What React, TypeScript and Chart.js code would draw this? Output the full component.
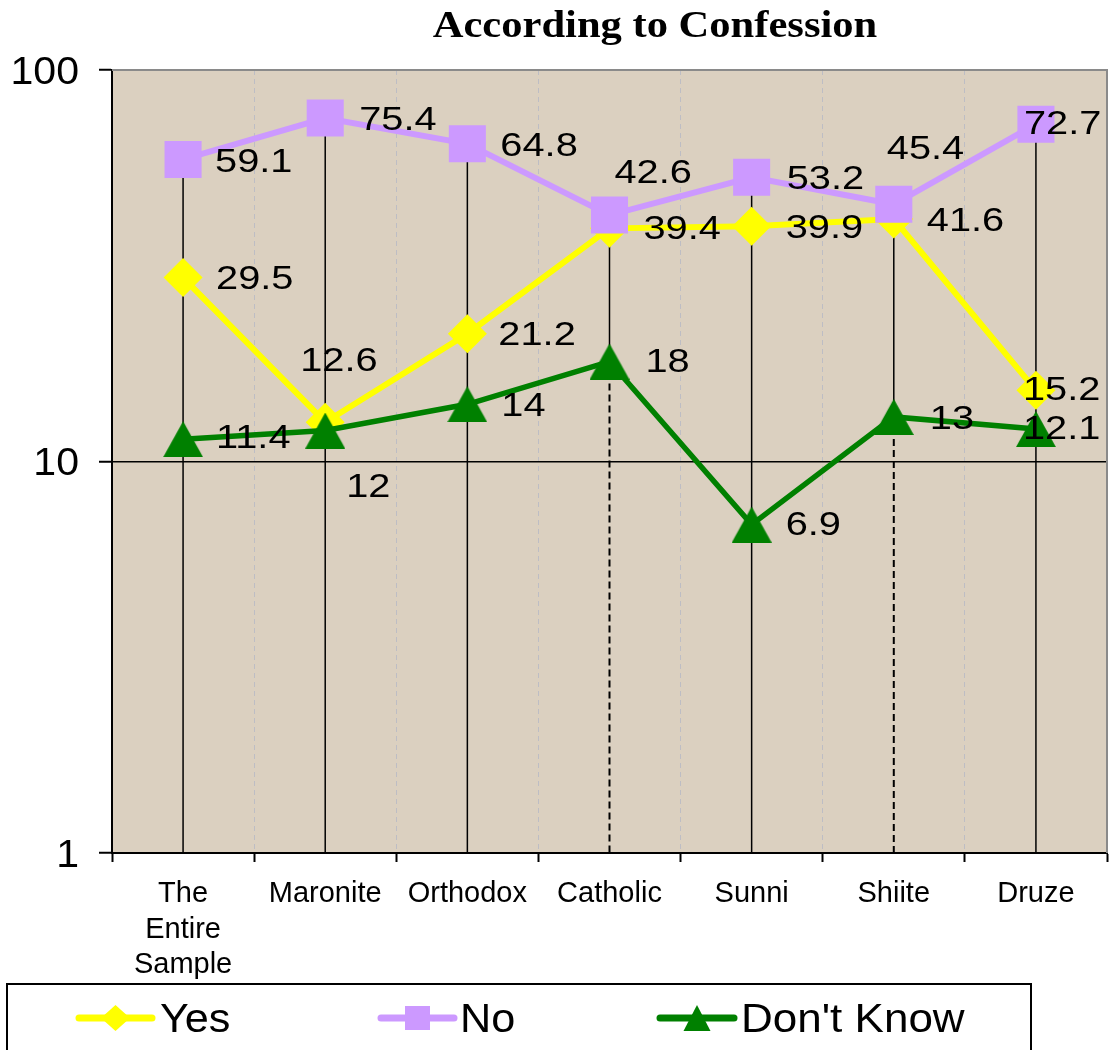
import React, { useEffect, useRef } from "react";
import { Chart, registerables } from "chart.js";

Chart.register(...registerables);

const chartTitle = "According to Confession";
const categories: string[][] = [
  ["The", "Entire", "Sample"],
  ["Maronite"],
  ["Orthodox"],
  ["Catholic"],
  ["Sunni"],
  ["Shiite"],
  ["Druze"],
];
const seriesNames = ["Yes", "No", "Don't Know"];
const yesValues = [29.5, 12.6, 21.2, 39.4, 39.9, 41.6, 15.2];
const noValues = [59.1, 75.4, 64.8, 42.6, 53.2, 45.4, 72.7];
const dontKnowValues = [11.4, 12, 14, 18, 6.9, 13, 12.1];
const yTickValues = [1, 10, 100];

// data label placement (dx to text start, dy of text centre) relative to the point
const yesLabelOffsets = [[33, -1], [-25, -63], [31, -1], [34, -2], [34, 0], [33, 0], [-13, -2]];
const noLabelOffsets = [[32, 0], [34, 0], [33, 0], [5, -44], [35, 0], [-7, -57], [-12, -2]];
const dkLabelOffsets = [[33, -3], [21, 54], [34, 0], [36, -2], [34, -2], [36, 0], [-13, -2]];

const SANS = '"Liberation Sans", Arial, Helvetica, sans-serif';
const SERIF = '"Liberation Serif", "Times New Roman", serif';
const YELLOW = "#FFFF00";
const PURPLE = "#CC99FF";
const GREEN = "#008000";
const PLOT_BG = "#DBD0C0";
const CANVAS_W = 1134;
const CANVAS_H = 1050;

function drawText(
  ctx: CanvasRenderingContext2D,
  text: string,
  x: number,
  baseline: number,
  font: string,
  sx: number,
  align: CanvasTextAlign
) {
  ctx.save();
  ctx.font = font;
  ctx.textAlign = align;
  ctx.textBaseline = "alphabetic";
  ctx.fillStyle = "#000";
  ctx.translate(x, baseline);
  ctx.scale(sx, 1);
  ctx.fillText(text, 0, 0);
  ctx.restore();
}

function makeTriangle(w: number, h: number, color: string) {
  const c = document.createElement("canvas");
  c.width = w;
  c.height = h;
  const g = c.getContext("2d")!;
  g.fillStyle = color;
  g.beginPath();
  g.moveTo(w / 2, 0);
  g.lineTo(w, h);
  g.lineTo(0, h);
  g.closePath();
  g.fill();
  return c;
}

const customPlugin = {
  id: "customDecor",
  beforeDraw(chart: any) {
    const { ctx, chartArea: a, width, height } = chart;
    ctx.save();
    ctx.fillStyle = "#FFFFFF";
    ctx.fillRect(0, 0, width, height);
    ctx.fillStyle = PLOT_BG;
    ctx.fillRect(a.left, a.top, a.right - a.left, a.bottom - a.top);
    ctx.restore();
  },
  beforeDatasetsDraw(chart: any) {
    const { ctx, chartArea: a } = chart;
    const metas = [0, 1, 2].map((i) => chart.getDatasetMeta(i));
    ctx.save();
    // plot frame (top and right)
    ctx.strokeStyle = "#8A8A8A";
    ctx.lineWidth = 2;
    ctx.beginPath();
    ctx.moveTo(a.left, a.top);
    ctx.lineTo(a.right, a.top);
    ctx.lineTo(a.right, a.bottom);
    ctx.stroke();
    // drop lines
    const dashedBelowLowest = [3, 5];
    for (let j = 0; j < categories.length; j++) {
      const ys = metas.map((m: any) => m.data[j].y);
      const x = metas[0].data[j].x;
      const top = Math.min(...ys);
      const low = Math.max(...ys);
      ctx.strokeStyle = "#000";
      ctx.lineWidth = 1.5;
      ctx.setLineDash([]);
      ctx.beginPath();
      if (dashedBelowLowest.includes(j)) {
        ctx.moveTo(x, top);
        ctx.lineTo(x, low);
        ctx.stroke();
        ctx.lineWidth = 2;
        ctx.setLineDash([7, 4]);
        ctx.beginPath();
        ctx.moveTo(x, low);
        ctx.lineTo(x, a.bottom);
        ctx.stroke();
      } else {
        ctx.moveTo(x, top);
        ctx.lineTo(x, a.bottom);
        ctx.stroke();
      }
    }
    ctx.restore();
  },
  afterDatasetsDraw(chart: any) {
    const { ctx } = chart;
    const sets = [yesValues, noValues, dontKnowValues];
    const offs = [yesLabelOffsets, noLabelOffsets, dkLabelOffsets];
    const size = 34;
    sets.forEach((vals, i) => {
      const meta = chart.getDatasetMeta(i);
      vals.forEach((v, j) => {
        const p = meta.data[j];
        const [dx, dy] = offs[i][j];
        drawText(ctx, String(v), p.x + dx, p.y + dy + size * 0.358, `${size}px ${SANS}`, 1.17, "left");
      });
    });
  },
  afterDraw(chart: any) {
    const { ctx, scales } = chart;
    const xs = scales.x;
    const ys = scales.y;
    // y tick labels
    const ySize = 38;
    yTickValues.forEach((v) => {
      const y = ys.getPixelForValue(v);
      drawText(ctx, String(v), 79, y + ySize * 0.358, `${ySize}px ${SANS}`, 1.08, "right");
    });
    // x labels
    const xSize = 29;
    categories.forEach((lines, j) => {
      const x = xs.getPixelForValue(j);
      lines.forEach((ln, k) => {
        drawText(ctx, ln, x, 892 + k * 35.5 + xSize * 0.358, `${xSize}px ${SANS}`, 1.0, "center");
      });
    });
    // title
    drawText(ctx, chartTitle, 655, 37, `bold 38px ${SERIF}`, 1.12, "center");
    // legend
    ctx.save();
    ctx.strokeStyle = "#000";
    ctx.lineWidth = 2;
    ctx.strokeRect(7, 984, 1024, 90);
    const cy = 1018;
    const items = [
      { name: seriesNames[0], color: YELLOW, x0: 79, x1: 152, tx: 160, sx: 1.08 },
      { name: seriesNames[1], color: PURPLE, x0: 381, x1: 454, tx: 460, sx: 1.08 },
      { name: seriesNames[2], color: GREEN, x0: 660, x1: 734, tx: 741, sx: 1.1 },
    ];
    items.forEach((it, i) => {
      ctx.strokeStyle = it.color;
      ctx.lineWidth = 7;
      ctx.lineCap = "round";
      ctx.beginPath();
      ctx.moveTo(it.x0, cy);
      ctx.lineTo(it.x1, cy);
      ctx.stroke();
      const mx = (it.x0 + it.x1) / 2;
      ctx.fillStyle = it.color;
      ctx.beginPath();
      if (i === 0) {
        ctx.moveTo(mx - 14.5, cy);
        ctx.lineTo(mx, cy - 13);
        ctx.lineTo(mx + 14.5, cy);
        ctx.lineTo(mx, cy + 13);
      } else if (i === 1) {
        ctx.rect(mx - 12.5, cy - 12, 25, 24);
      } else {
        ctx.moveTo(mx, cy - 13);
        ctx.lineTo(mx + 13.5, cy + 13);
        ctx.lineTo(mx - 13.5, cy + 13);
      }
      ctx.closePath();
      ctx.fill();
      drawText(ctx, it.name, it.tx, cy + 40 * 0.358, `40px ${SANS}`, it.sx, "left");
    });
    ctx.restore();
  },
};

export default function App() {
  const canvasRef = useRef<HTMLCanvasElement | null>(null);

  useEffect(() => {
    const canvas = canvasRef.current;
    if (!canvas) return;
    const triangle = makeTriangle(40, 36, GREEN);
    const chart = new Chart(canvas, {
      type: "line",
      data: {
        labels: categories.map((c) => c.join(" ")),
        datasets: [
          {
            label: seriesNames[0],
            data: yesValues,
            borderColor: YELLOW,
            backgroundColor: YELLOW,
            borderWidth: 6,
            pointStyle: "rectRot",
            pointRadius: 19.5,
            pointBorderWidth: 0,
            pointBackgroundColor: YELLOW,
            order: 2,
          },
          {
            label: seriesNames[1],
            data: noValues,
            borderColor: PURPLE,
            backgroundColor: PURPLE,
            borderWidth: 6,
            pointStyle: "rect",
            pointRadius: 26.2,
            pointBorderWidth: 0,
            pointBackgroundColor: PURPLE,
            order: 1,
          },
          {
            label: seriesNames[2],
            data: dontKnowValues,
            borderColor: GREEN,
            backgroundColor: GREEN,
            borderWidth: 5.5,
            pointStyle: triangle as any,
            pointRadius: 20,
            pointBorderWidth: 0,
            pointBackgroundColor: GREEN,
            order: 0,
          },
        ],
      },
      options: {
        responsive: false,
        animation: false,
        events: [],
        devicePixelRatio: 1,
        layout: { padding: { left: 0, top: 70, right: 27, bottom: 0 } },
        plugins: {
          legend: { display: false },
          title: { display: false },
          tooltip: { enabled: false },
        },
        scales: {
          x: {
            type: "category",
            offset: true,
            grid: {
              offset: true,
              color: "#BDBDC4",
              lineWidth: 1,
              tickColor: "#000",
              tickLength: 9,
              tickWidth: 2,
              tickBorderDash: [],
              drawTicks: true,
            },
            border: { display: true, color: "#000", width: 2, dash: [5, 4] },
            ticks: { display: false },
            afterFit: (s: any) => {
              s.height = 197;
            },
          },
          y: {
            type: "logarithmic",
            min: 1,
            max: 100,
            afterBuildTicks: (s: any) => {
              s.ticks = yTickValues.map((v) => ({ value: v }));
            },
            grid: {
              color: (c: any) => (c.tick && c.tick.value === 10 ? "#000" : "rgba(0,0,0,0)"),
              lineWidth: 1.5,
              tickColor: "#000",
              tickLength: 13,
              tickWidth: 2,
            },
            border: { display: true, color: "#000", width: 2 },
            ticks: { display: false },
            afterFit: (s: any) => {
              s.width = 112;
            },
          },
        },
      } as any,
      plugins: [customPlugin],
    });
    return () => chart.destroy();
  }, []);

  return (
    <div
      style={{
        position: "absolute",
        left: 0,
        top: 0,
        width: 1117,
        height: 1050,
        overflow: "hidden",
        background: "#fff",
      }}
    >
      <canvas
        ref={canvasRef}
        width={CANVAS_W}
        height={CANVAS_H}
        style={{ display: "block", width: CANVAS_W, height: CANVAS_H }}
      />
    </div>
  );
}
